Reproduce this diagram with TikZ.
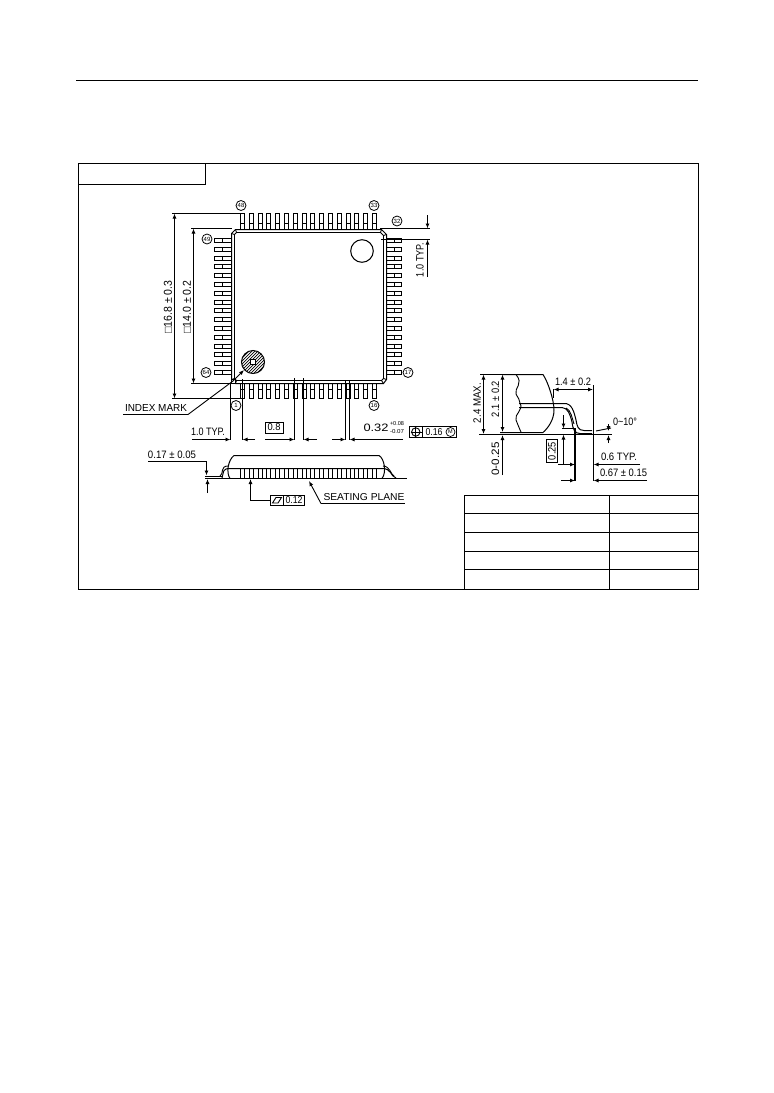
\documentclass[tikz,border=0pt]{standalone}
\usepackage{graphicx}
\usepackage{fontspec}
\setmainfont{Liberation Sans}
\usetikzlibrary{arrows.meta}
\tikzset{
  ln/.style={line width=1pt,black},
  thn/.style={line width=0.9pt,black},
  dim/.style={line width=0.9pt,black},
  tipsb/.style={dim,{Latex[length=5pt,width=4pt]}-{Latex[length=5pt,width=4pt]}},
  tipe/.style={dim,-{Latex[length=5pt,width=4pt]}},
  txtn/.style={inner sep=0pt,outer sep=0pt},
  pinlab/.style={draw,line width=0.8pt,circle,inner sep=0pt,minimum size=10pt,font=\fontsize{6}{6}\selectfont},
  tolbox/.style={draw,line width=0.9pt,inner sep=0pt}
}
\newcommand{\TT}[7]{\node[txtn,rotate=#4] (#1) at (#2,#3) {\resizebox{#5pt}{#6pt}{#7}};}
\begin{document}
\begin{tikzpicture}[x=1pt,y=-1pt]
\useasboundingbox (0,0) rectangle (774,1093);
\fill[white] (0,0) rectangle (774,1093);
% page frame
\draw[ln] (76,80.5) -- (698,80.5);
\draw[ln] (78.5,163.5) rectangle (698.5,589.5);
\draw[ln] (78.5,184.5) -- (205.5,184.5) -- (205.5,163.5);
% table
\draw[ln] (464.5,495.5) rectangle (698.5,589.5);
\draw[ln] (609.5,495.5) -- (609.5,589.5);
\foreach \yy in {513.5,532.5,551.5,569.5} \draw[ln] (464.5,\yy) -- (698.5,\yy);
% pins
\foreach \i in {0,...,15} {
  \pgfmathsetmacro{\c}{round(242+8.8*\i)}
  \pgfmathsetmacro{\d}{round(240+8.8*\i)}
  \draw[thn,fill=white] (\c-1.5,213.5) rectangle (\c+2.5,229);
  \draw[thn] (\c-1.5,223.5) -- (\c+2.5,223.5);
  \draw[thn,fill=white] (\c-1.5,383) rectangle (\c+2.5,398.5);
  \draw[thn] (\c-1.5,389.5) -- (\c+2.5,389.5);
  \draw[thn,fill=white] (214.5,\d-1.5) rectangle (231,\d+2.5);
  \draw[thn] (222.5,\d-1.5) -- (222.5,\d+2.5);
  \draw[thn,fill=white] (386,\d-1.5) rectangle (401.5,\d+2.5);
  \draw[thn] (394.5,\d-1.5) -- (394.5,\d+2.5);
}
% body
\draw[ln,fill=white] (235.5,229.5) -- (381.5,229.5) -- (386.5,234.5) -- (386.5,379.5) -- (383.5,383.5) -- (235.5,383.5) -- (231.5,379.5) -- (231.5,233.5) -- cycle;
\draw[thn] (236.5,232.5) -- (380.5,232.5) -- (383.5,235.5) -- (383.5,378.5) -- (381.5,380.5) -- (236.5,380.5) -- (234.5,378.5) -- (234.5,234.5) -- cycle;
\draw[thn] (231.5,233.5) -- (234.5,234.5) (235.5,229.5) -- (236.5,232.5) (381.5,229.5) -- (380.5,232.5) (386.5,234.5) -- (383.5,235.5) (386.5,379.5) -- (383.5,378.5) (383.5,383.5) -- (381.5,380.5) (235.5,383.5) -- (236.5,380.5) (231.5,379.5) -- (234.5,378.5);
\draw[ln] (362,251) circle (11.3);
% index mark
\begin{scope}
  \clip (253,362) circle (11.5);
  \foreach \k in {-24,-21,...,24}
    \draw[line width=0.7pt] (253+\k-14,376) -- (253+\k+14,348);
\end{scope}
\draw[ln] (253,362) circle (11.5);
\draw[thn,fill=white] (250.5,359.5) rectangle (255.5,364.5);
\draw[thn,fill=white] (231.5,379.5) rectangle (235.5,383.5);
\draw[tipe] (233,381) -- (244,370);
\draw[dim] (123,414.5) -- (188,414.5) -- (233,381);
\TT{idx}{156}{408}{0}{62}{7}{INDEX MARK}
% pin labels
\node[pinlab] (p48) at (241,205.5) {48};
\node[pinlab] (p33) at (374,205.5) {33};
\node[pinlab] (p32) at (397,221) {32};
\node[pinlab] (p49) at (207,239) {49};
\node[pinlab] (p64) at (206,372.5) {64};
\node[pinlab] (p17) at (408,372.5) {17};
\node[pinlab] (p16) at (374,405.5) {16};
\node[pinlab] (p1) at (236,405.5) {1};
% left dimensions
\draw[dim] (172,213.5) -- (241,213.5);
\draw[dim] (172,398.5) -- (241,398.5);
\draw[tipsb] (174.5,213.5) -- (174.5,398.5);
\draw[dim] (191,228.5) -- (232,228.5);
\draw[dim] (191,383.5) -- (232,383.5);
\draw[tipsb] (193.5,228.5) -- (193.5,383.5);
\TT{d168}{168}{307}{90}{53}{8}{□16.8 ± 0.3}
\TT{d140}{187}{307}{90}{53}{8}{□14.0 ± 0.2}
% right 1.0 TYP
\draw[dim] (380,228.5) -- (430,228.5);
\draw[dim] (381,239.5) -- (430,239.5);
\draw[tipe] (427.5,215) -- (427.5,228.5);
\draw[tipe] (427.5,277) -- (427.5,239.5);
\TT{typr}{420}{260}{90}{34}{7.5}{1.0 TYP.}
% bottom dimensions
\draw[dim] (230.5,383) -- (230.5,440);
\draw[dim] (242.5,379) -- (242.5,440);
\draw[tipe] (192,439.5) -- (230.5,439.5);
\draw[tipe] (255,439.5) -- (242.5,439.5);
\TT{typb}{208}{431.5}{0}{34}{7.5}{1.0 TYP.}
\node[tolbox,minimum width=18pt,minimum height=11pt] (b08) at (274,427.5) {\resizebox{13pt}{7pt}{0.8}};
\draw[dim] (294.5,378) -- (294.5,440);
\draw[dim] (303.5,378) -- (303.5,440);
\draw[tipe] (265,439.5) -- (294.5,439.5);
\draw[tipe] (317,439.5) -- (303.5,439.5);
\draw[dim] (345.5,381) -- (345.5,440);
\draw[dim] (349.5,381) -- (349.5,440);
\draw[tipe] (332,439.5) -- (345.5,439.5);
\draw[tipe] (403,439.5) -- (349.5,439.5);
\TT{d032}{376}{428}{0}{25}{7.5}{0.32}
\TT{dp}{397}{423.5}{0}{14}{4}{+0.08}
\TT{dm}{397}{431.5}{0}{14}{4}{-0.07}
% position tolerance frame
\draw[dim] (409.5,426.5) rectangle (456.5,437.5);
\draw[dim] (422.5,426.5) -- (422.5,437.5);
\draw[thn] (415.8,432) circle (4.2);
\draw[thn] (410.5,432) -- (421.5,432) (415.8,427) -- (415.8,437);
\TT{d016}{434}{432}{0}{17}{7}{0.16}
\node[draw,line width=0.7pt,circle,inner sep=0pt,minimum size=9pt,font=\fontsize{5.5}{5.5}\selectfont] (mm) at (450.5,432) {M};
% side view
\foreach \i in {0,...,15} {
  \pgfmathsetmacro{\c}{round(242+8.8*\i)}
  \draw[thn] (\c-1.5,468.5) rectangle (\c+2.5,478.5);
}
\draw[ln] (230,478.5) .. controls (226,473) and (228,460) .. (234,455.5) -- (379,455.5) .. controls (384,458) and (387,472) .. (382,478.5);
\draw[ln] (222,478) .. controls (224,472) and (222,468.5) .. (230,468.5) -- (382,468.5) .. controls (392,468.5) and (390,476) .. (396,478);
\draw[thn] (220,476) .. controls (224,474) and (220,466) .. (228,466) (383,466) .. controls (390,466) and (391,475) .. (394,476);
\draw[ln] (205,478.5) -- (407,478.5);
\draw[thn] (205,476) -- (222,476);
\draw[dim] (148,461.5) -- (206.5,461.5);
\draw[tipe] (206.5,461.5) -- (206.5,475.5);
\draw[tipe] (207.5,493) -- (207.5,479);
\TT{d017}{172}{454.5}{0}{48}{7.5}{0.17 ± 0.05}
% flatness
\draw[tipe] (250.5,500.5) -- (250.5,479);
\draw[dim] (250.5,500.5) -- (271,500.5);
\draw[dim] (270.5,495.5) rectangle (304.5,505.5);
\draw[dim] (283.5,495.5) -- (283.5,505.5);
\draw[thn] (272.5,503) -- (276,497.5) -- (281.5,497.5) -- (278,503) -- cycle;
\TT{d012}{294}{500.5}{0}{17}{7}{0.12}
\draw[tipe] (321,503.5) -- (309,481);
\draw[dim] (321,503.5) -- (405,503.5);
\TT{seat}{364}{497}{0}{81}{7}{SEATING PLANE}
% lead detail
\draw[ln] (502,374.5) -- (543,374.5) .. controls (548,382) and (554,400) .. (554,410) .. controls (554,420) and (548,428) .. (543,432.5) -- (500,432.5);
\draw[thn] (516,374.5) .. controls (524,384) and (514,388) .. (516,394) .. controls (518,398) and (520,400) .. (520,403) .. controls (524,410) and (514,414) .. (516,420) .. controls (518,425) and (520,430) .. (521,432);
\draw[ln] (519,403.5) -- (564,403.5) .. controls (572,403) and (574,412) .. (576,420) .. controls (577,426) and (578,430.5) .. (584,430.5) -- (592,430.5);
\draw[ln] (519,407.5) -- (562,407.5) .. controls (568,408) and (570,414) .. (572,422) .. controls (573,430) and (575,433.5) .. (580,433.5) -- (592,433.5);
\draw[thn] (566,408) .. controls (571,410) and (572,418) .. (574,424);
% dimension lines detail
\draw[dim] (480,374.5) -- (502,374.5);
\draw[ln] (479,434.5) -- (600,434.5);
\draw[tipsb] (483.5,374.5) -- (483.5,434);
\draw[tipsb] (502.5,374.5) -- (502.5,432);
\draw[tipe] (502.5,475) -- (502.5,435);
\TT{d24}{477}{403}{90}{40}{7.5}{2.4 MAX.}
\TT{d21}{495.5}{399}{90}{36}{7.5}{2.1 ± 0.2}
\TT{d025}{495.5}{459}{90}{33}{7.5}{0-0.25}
\draw[dim] (553.5,389) -- (553.5,398);
\draw[tipsb] (553.5,389.5) -- (593,389.5);
\draw[dim] (593.5,385) -- (593.5,481);
\TT{d14}{573}{381.5}{0}{36}{7.5}{1.4 ± 0.2}
\draw[line width=1.6pt] (575,428) -- (575,481);
\draw[dim] (562,428.5) -- (575,428.5);
\draw[tipe] (563.5,415) -- (563.5,428.5);
\draw[tipe] (563.5,464.5) -- (563.5,434.5);
\draw[tipe] (558,464.5) -- (575,464.5);
\draw[tipe] (640,464.5) -- (593.5,464.5);
\draw[tipe] (561,480.5) -- (575,480.5);
\draw[tipe] (647,480.5) -- (593.5,480.5);
\draw[dim] (546.5,439.5) rectangle (557.5,462.5);
\TT{b025}{552}{451}{90}{18}{7.5}{0.25}
\TT{d06}{619}{457}{0}{36}{7.5}{0.6 TYP.}
\TT{d067}{623.5}{472.5}{0}{47}{7.5}{0.67 ± 0.15}
% angle
\draw[dim] (590,434.5) -- (612,434.5);
\draw[thn] (596,431) -- (611,428);
\draw[tipe] (608.5,424) -- (608.5,431);
\draw[tipe] (608.5,443) -- (608.5,435);
\TT{ang}{625}{422}{0}{24}{7.5}{0\textasciitilde 10°}
\end{tikzpicture}
\end{document}
